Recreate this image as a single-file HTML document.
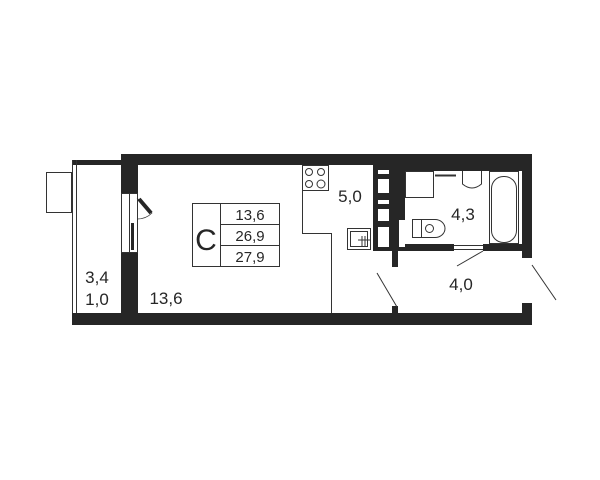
<!DOCTYPE html>
<html><head><style>html,body{margin:0;padding:0;background:#fff}svg{display:block}</style></head>
<body>
<svg width="600" height="480" viewBox="0 0 600 480" xmlns="http://www.w3.org/2000/svg" font-family="Liberation Sans, sans-serif">
<rect width="600" height="480" fill="#fff"/>
<g fill="#262626">
<!-- outer walls -->
<rect x="121" y="154" width="411" height="11"/>
<rect x="121" y="154" width="17" height="39"/>
<rect x="121" y="253" width="17" height="72"/>
<rect x="72" y="313" width="460" height="12"/>
<rect x="522" y="154" width="10" height="104"/>
<rect x="522" y="303" width="10" height="22"/>
<!-- balcony top -->
<rect x="72" y="160" width="49" height="5"/>
<!-- bathroom top -->
<rect x="373" y="154" width="149" height="17"/>
<!-- shaft / bath left wall -->
<rect x="373" y="165" width="32" height="86"/>
<!-- bath bottom wall -->
<rect x="373" y="244" width="81" height="7"/>
<rect x="483" y="244" width="39" height="7"/>
<rect x="392" y="244" width="6" height="23"/>
<rect x="392" y="306" width="6" height="8"/>
</g>
<g fill="#fff">
<rect x="378" y="170" width="11" height="4"/>
<rect x="378" y="179" width="11" height="14"/>
<rect x="378" y="200" width="11" height="4"/>
<rect x="378" y="209" width="11" height="12"/>
<rect x="378" y="227" width="11" height="20"/>
<rect x="399" y="220" width="6" height="27"/>
<rect x="405" y="171" width="117" height="73"/>
</g>
<g fill="none" stroke="#333" stroke-width="1">
<!-- balcony -->
<line x1="72.5" y1="160" x2="72.5" y2="313"/>
<line x1="76.5" y1="160" x2="76.5" y2="313"/>
<rect x="46.5" y="172.5" width="25" height="40"/>
<!-- window main -->
<rect x="121.5" y="193.5" width="16" height="59"/>
<line x1="129.5" y1="193" x2="129.5" y2="253"/>
<path d="M137 198 L152 213 A21 21 0 0 1 137 219" stroke-width="0.7"/>
<!-- kitchen -->
<polyline points="302.5,165 302.5,233.5 331.5,233.5 331.5,313"/>
<rect x="302.5" y="165.5" width="26" height="25"/>
<circle cx="309" cy="172" r="3.5"/><circle cx="321" cy="172" r="3.5"/>
<circle cx="309" cy="184" r="3.5"/><circle cx="321" cy="184" r="4"/>
<rect x="347.5" y="228.5" width="23" height="21"/>
<rect x="350.5" y="231.5" width="17" height="15"/>
<line x1="362" y1="236" x2="362" y2="246"/><line x1="365" y1="236" x2="365" y2="246"/>
<line x1="358" y1="240" x2="370" y2="240"/>
<!-- bathroom fixtures -->
<rect x="405.5" y="171.5" width="28" height="26"/>
<line x1="435" y1="175.5" x2="456" y2="175.5" stroke-width="2"/>
<path d="M462.5 171 L462.5 184 Q472 192 481.5 184 L481.5 171"/>
<rect x="489.5" y="171.5" width="29" height="72"/>
<rect x="491.5" y="176.5" width="25" height="66" rx="12"/>
<rect x="412.5" y="219.5" width="9" height="18"/>
<path d="M421 219.5 L435 219.5 A10 9 0 0 1 435 237.5 L421 237.5"/>
<rect x="425.5" y="224.5" width="8" height="8" rx="4"/>
<line x1="454" y1="245.5" x2="483" y2="245.5"/><line x1="454" y1="249.5" x2="483" y2="249.5"/>
<!-- door swings -->
<line x1="457" y1="266" x2="483" y2="251"/>
<line x1="377" y1="273" x2="397" y2="307"/>
<line x1="532" y1="265" x2="556" y2="300"/>
<!-- table -->
<rect x="192.5" y="203.5" width="87" height="63"/>
<line x1="220.5" y1="203" x2="220.5" y2="266"/>
<line x1="220" y1="224.5" x2="279" y2="224.5"/>
<line x1="220" y1="245.5" x2="279" y2="245.5"/>
</g>
<rect x="131" y="223" width="3" height="27" fill="#262626"/>
<line x1="139" y1="199" x2="151" y2="213" stroke="#262626" stroke-width="4"/>
<g fill="#262626" font-size="17">
<text x="206" y="250" font-size="30" text-anchor="middle">C</text>
<text x="250" y="220" font-size="15" text-anchor="middle">13,6</text>
<text x="250" y="241" font-size="15" text-anchor="middle">26,9</text>
<text x="250" y="262" font-size="15" text-anchor="middle">27,9</text>
<text x="350" y="202" text-anchor="middle">5,0</text>
<text x="463" y="220" text-anchor="middle">4,3</text>
<text x="461" y="290" text-anchor="middle">4,0</text>
<text x="166" y="304" text-anchor="middle">13,6</text>
<text x="97" y="283" text-anchor="middle">3,4</text>
<text x="97" y="305" text-anchor="middle">1,0</text>
</g>
</svg>
</body></html>
